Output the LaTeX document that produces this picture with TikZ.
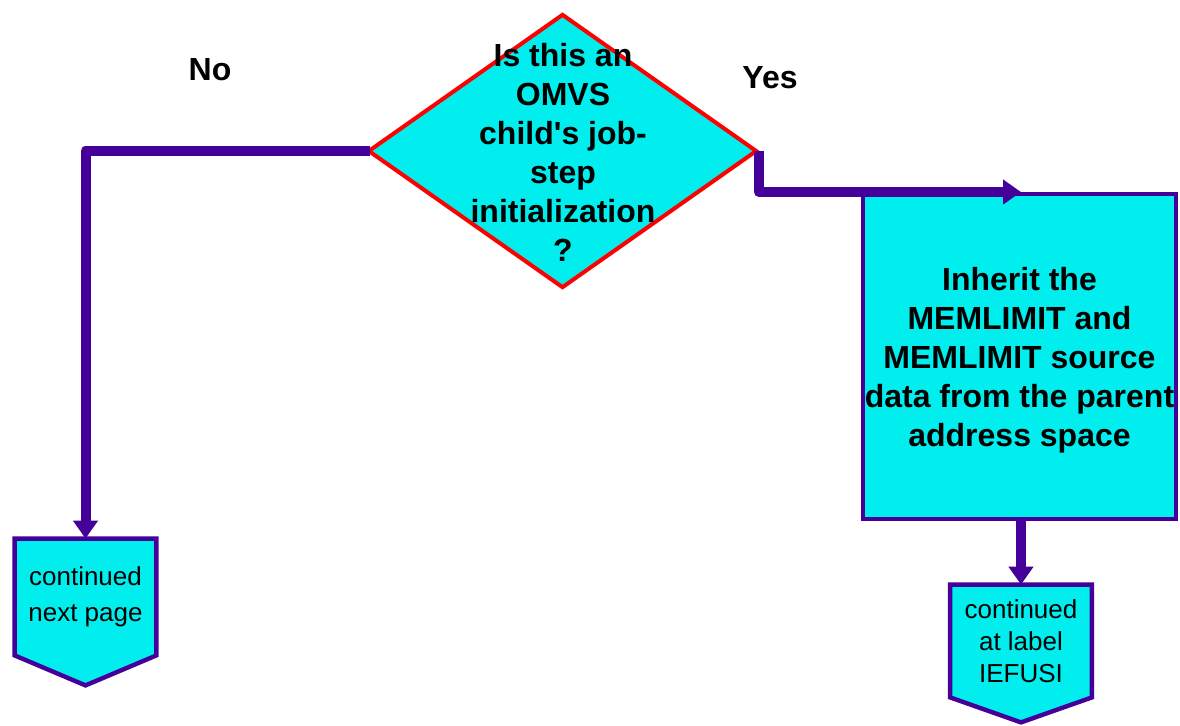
\documentclass[tikz,border=0pt]{standalone}
\usepackage{fontspec}
\setmainfont{Liberation Sans}
\usetikzlibrary{shapes.geometric,arrows.meta,backgrounds}
\definecolor{flowcyan}{RGB}{0,238,238}
\definecolor{flowpurple}{RGB}{68,0,153}

\begin{document}
\begin{tikzpicture}[x=0.5pt,y=-0.5pt,
  decision/.style={diamond,draw=red,line width=2pt,fill=flowcyan,inner sep=0pt,
    minimum width=194.5pt,minimum height=137pt},
  bigtext/.style={align=center,font=\bfseries\fontsize{16}{19.5}\selectfont},
  process/.style={rectangle,draw=flowpurple,line width=2pt,fill=flowcyan,inner sep=0pt,
    minimum width=156.5pt,minimum height=162.5pt,text depth=0pt,bigtext},
  offpage/.style={rectangle,inner sep=0pt,align=center},
  offshape/.style={draw=flowpurple,line width=2.2pt,fill=flowcyan},
  flow/.style={draw=flowpurple,line width=5pt,line join=round,
    -{Triangle[width=12pt,length=9pt]}}]
\useasboundingbox (0,0) rectangle (1180,725);
%decision
\node (q) [decision] at (562.5,151) {};
\node (qtext) [bigtext] at (563,152) {Is this an\\OMVS\\child\textquotesingle s job-\\step\\initialization\\?};
\node (lblno) [bigtext] at (210,70) {No};
\node (lblyes) [bigtext] at (770,78) {Yes};
%process
\node (inherit) [process] at (1019.5,356.5) {Inherit the\\MEMLIMIT and\\MEMLIMIT source\\data from the parent\\address space};
%off-page connectors
\node (pageA) [offpage,minimum width=70.5pt,minimum height=58pt,
  font=\fontsize{13}{18}\selectfont] at (85.5,597) {continued\\next page};
\node (pageB) [offpage,minimum width=70.5pt,minimum height=56pt,
  font=\fontsize{13}{16}\selectfont] at (1021,641) {continued\\at label\\IEFUSI};
\begin{scope}[on background layer]
\draw[offshape] (pageA.north west) -- (pageA.north east) -- (pageA.south east)
  -- ([yshift=-15pt]pageA.south) -- (pageA.south west) -- cycle;
\draw[offshape] (pageB.north west) -- (pageB.north east) -- (pageB.south east)
  -- ([yshift=-12.5pt]pageB.south) -- (pageB.south west) -- cycle;
\end{scope}
%connectors
\draw[flow] ([xshift=2pt]q.west) -| (pageA.north);
\draw[flow] (q.east) |- (pageB.north |- inherit.north);
\draw[flow] (pageB.north |- inherit.south) -- (pageB.north);
\end{tikzpicture}
\end{document}
